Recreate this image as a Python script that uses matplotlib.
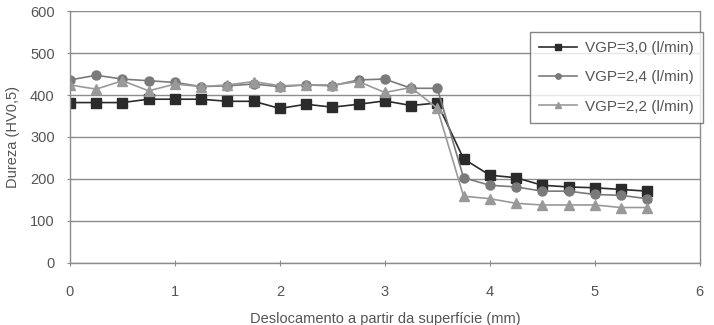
import matplotlib.pyplot as plt

plt.rcParams['font.family'] = ['Liberation Sans', 'DejaVu Sans']

x = [0, 0.25, 0.5, 0.75, 1.0, 1.25, 1.5, 1.75, 2.0, 2.25, 2.5, 2.75, 3.0, 3.25, 3.5,
     3.75, 4.0, 4.25, 4.5, 4.75, 5.0, 5.25, 5.5]
vgp_30 = [382, 382, 382, 390, 390, 390, 385, 385, 368, 378, 371, 378, 386, 375, 381,
          248, 209, 203, 185, 181, 179, 175, 171]
vgp_24 = [436, 447, 438, 434, 430, 420, 422, 426, 420, 424, 422, 436, 438, 416, 416,
          203, 185, 181, 171, 171, 163, 161, 153]
vgp_22 = [424, 414, 434, 410, 426, 420, 424, 432, 422, 424, 424, 432, 406, 418, 368,
          159, 153, 142, 138, 138, 138, 132, 132]
labels = ['VGP=3,0 (l/min)', 'VGP=2,4 (l/min)', 'VGP=2,2 (l/min)']

fig = plt.figure(figsize=(7.14, 3.25), dpi=100)
ax = fig.add_axes([0.098, 0.191, 0.882, 0.775])

ax.plot(x, vgp_30, '-s', color='#2b2b2b', markersize=6.5, lw=1.2, label=labels[0])
ax.plot(x, vgp_24, '-o', color='#7a7a7a', markersize=6.5, lw=1.2, label=labels[1])
ax.plot(x, vgp_22, '-^', color='#999999', markersize=6.5, lw=1.2, label=labels[2])

ax.set_xlim(0, 6)
ax.set_ylim(0, 600)
ax.set_xticks(range(0, 7))
ax.set_yticks(range(0, 601, 100))
ax.yaxis.grid(True, color='#8c8c8c', lw=1.0)
ax.set_axisbelow(True)
for s in ax.spines.values():
    s.set_color('#8c8c8c')
    s.set_linewidth(1.0)
ax.spines['top'].set_visible(False)
ax.tick_params(colors='#8c8c8c', labelcolor='#555555', labelsize=10.5, length=4, direction='inout')
ax.tick_params(axis='x', pad=14)
ax.tick_params(axis='y', pad=9)

ax.set_ylabel('Dureza (HV0,5)', color='#555555', fontsize=10.5, labelpad=7)
ax.set_xlabel('Deslocamento a partir da superfície (mm)', color='#555555', fontsize=10.5, labelpad=9)

leg = ax.legend(loc='upper right', bbox_to_anchor=(1.005, 0.917), fontsize=11, frameon=True,
                fancybox=False, edgecolor='#666666', handlelength=2.5, labelcolor='#555555',
                borderpad=0.6, labelspacing=1.0, markerscale=0.6, handletextpad=0.5,
                borderaxespad=0)
leg.get_frame().set_linewidth(1.0)

plt.savefig('out.png')
